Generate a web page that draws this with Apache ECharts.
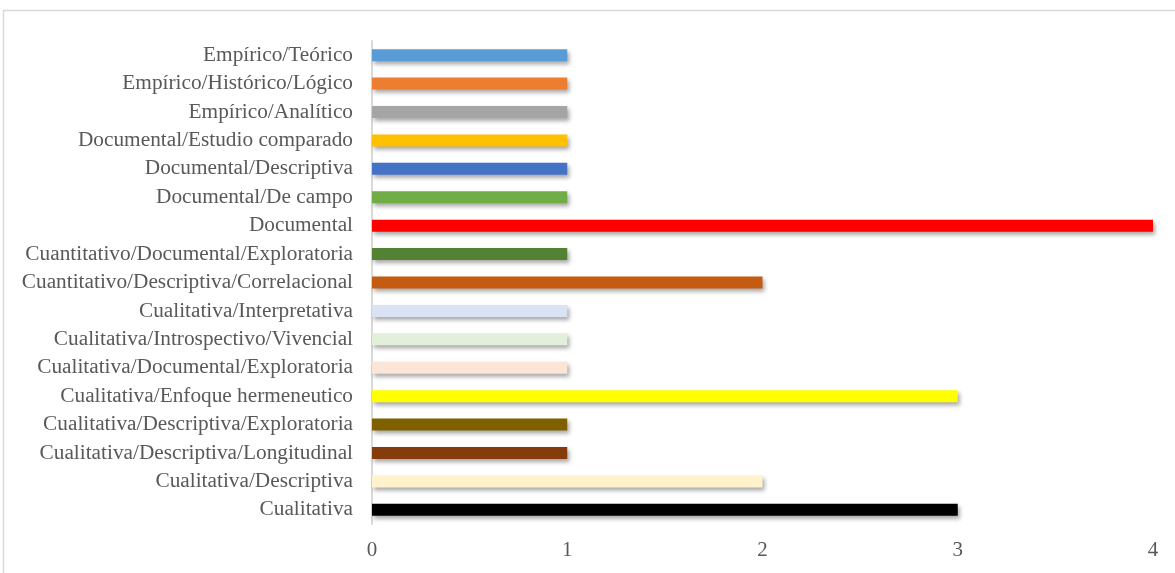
<!DOCTYPE html>
<html><head><meta charset="utf-8">
<script src="https://cdn.jsdelivr.net/npm/echarts@6/dist/echarts.min.js"></script>
<style>html,body{margin:0;padding:0;background:#fff}#c{width:1175px;height:573px}</style>
</head><body><div id="c"></div>
<script>
// categories listed bottom to top
const categories = [
  "Cualitativa",
  "Cualitativa/Descriptiva",
  "Cualitativa/Descriptiva/Longitudinal",
  "Cualitativa/Descriptiva/Exploratoria",
  "Cualitativa/Enfoque hermeneutico",
  "Cualitativa/Documental/Exploratoria",
  "Cualitativa/Introspectivo/Vivencial",
  "Cualitativa/Interpretativa",
  "Cuantitativo/Descriptiva/Correlacional",
  "Cuantitativo/Documental/Exploratoria",
  "Documental",
  "Documental/De campo",
  "Documental/Descriptiva",
  "Documental/Estudio comparado",
  "Empírico/Analítico",
  "Empírico/Histórico/Lógico",
  "Empírico/Teórico"
];
const values = [3, 2, 1, 1, 3, 1, 1, 1, 2, 1, 4, 1, 1, 1, 1, 1, 1];
const barColors = [
  "#000000", "#FFF2CC", "#843C0C", "#7F6000", "#FFFF00", "#FBE5D6", "#E2EFDA",
  "#DAE3F3", "#C55A11", "#548235", "#FF0000", "#70AD47", "#4472C4", "#FFC000",
  "#A5A5A5", "#ED7D31", "#5B9BD5"
];
const xTicks = [0, 1, 2, 3, 4];

const chart = echarts.init(document.getElementById('c'));
chart.setOption({
  animation: false,
  graphic: [{
    type: 'rect', shape: { x: 3.5, y: 10.5, width: 1180, height: 580 },
    style: { fill: 'none', stroke: '#d9d9d9', lineWidth: 1.5 }, silent: true, z: -1
  }],
  grid: { left: 372, right: 22, top: 41, bottom: 49 },
  xAxis: {
    type: 'value', min: xTicks[0], max: xTicks[xTicks.length - 1], interval: 1,
    axisLine: { show: false }, axisTick: { show: false }, splitLine: { show: false },
    axisLabel: { color: '#595959', fontFamily: 'Liberation Serif', fontSize: 21, margin: 16 }
  },
  yAxis: {
    type: 'category', data: categories,
    axisLine: { show: true, lineStyle: { color: '#d9d9d9', width: 2 } },
    axisTick: { show: false },
    axisLabel: { color: '#595959', fontFamily: 'Liberation Serif', fontSize: 21.3, margin: 19 }
  },
  series: [{
    type: 'bar',
    barWidth: 12,
    data: values.map((v, i) => ({ value: v, itemStyle: { color: barColors[i] } })),
    itemStyle: {
      shadowColor: 'rgba(0,0,0,0.35)', shadowBlur: 4, shadowOffsetX: 2, shadowOffsetY: 3
    }
  }]
});
</script></body></html>
